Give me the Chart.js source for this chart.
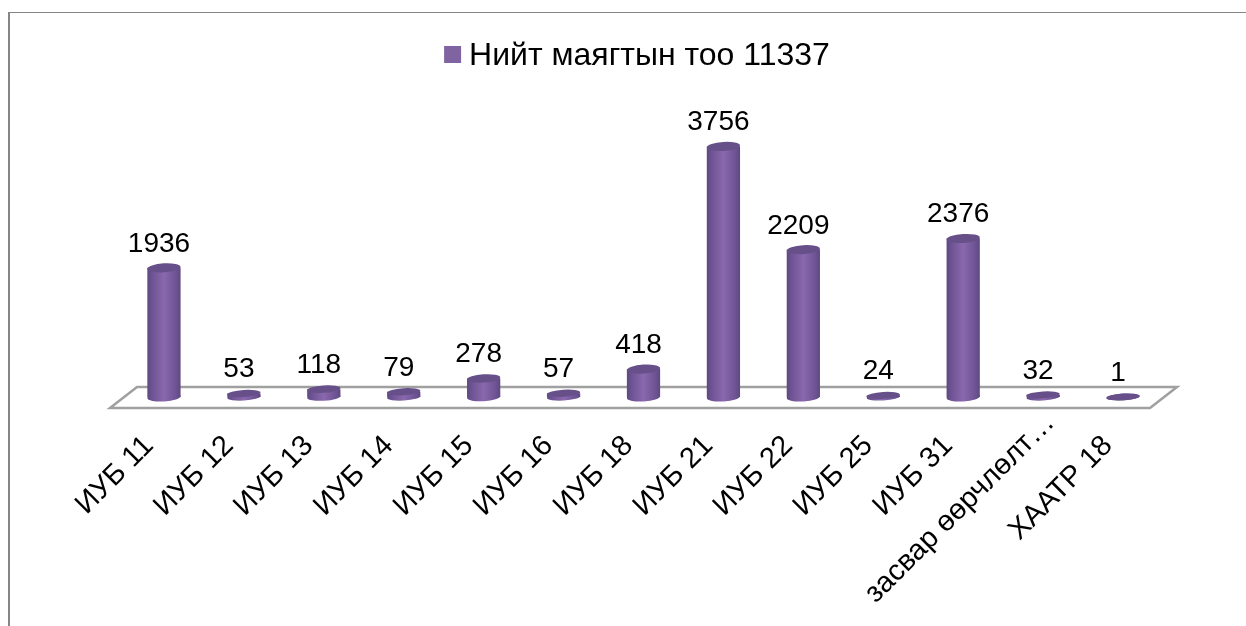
<!DOCTYPE html>
<html lang="mn">
<head>
<meta charset="UTF-8">
<title>Нийт маягтын тоо</title>
<script src="https://cdn.jsdelivr.net/npm/chart.js"></script>
<style>
    html, body { margin: 0; background: #fff; }
    #frame { position: absolute; left: 8px; top: 12px; right: 0; bottom: 0; border-top: 1px solid #868686; border-left: 2px solid #868686; }
    canvas { position: absolute; left: 0; top: 0; }
</style>
</head>
<body>
<div id="frame"></div>
<canvas id="chart" width="1246" height="626"></canvas>

<script>
    const categories = ['ИУБ 11', 'ИУБ 12', 'ИУБ 13', 'ИУБ 14', 'ИУБ 15', 'ИУБ 16', 'ИУБ 18', 'ИУБ 21', 'ИУБ 22', 'ИУБ 25', 'ИУБ 31', 'засвар өөрчлөлт…', 'ХААТР 18'];
    const values = [1936, 53, 118, 79, 278, 57, 418, 3756, 2209, 24, 2376, 32, 1];
    const seriesName = 'Нийт маягтын тоо 11337';

    const fontName = '"Liberation Sans", Arial, sans-serif';
    const capHeight = 4.5;

    // horizontal shading across one bar
    const bodyGradient = (g, x, w) => {
        const grad = g.createLinearGradient(x - w / 2, 0, x + w / 2, 0);
        grad.addColorStop(0, '#5f4882');
        grad.addColorStop(0.15, '#6e5494');
        grad.addColorStop(0.5, '#8a68ad');
        grad.addColorStop(0.85, '#6e5494');
        grad.addColorStop(1, '#5f4882');
        return grad;
    };

    // the long label sits further right and higher than the others
    const labelShiftPlugin = {
        id: 'labelShift',
        beforeDraw(chart) {
            const item = chart.scales.x.getLabelItems(chart.chartArea)[11];
            item.options.translation[0] += 22;
            item.options.translation[1] -= 23;
        }
    };

    // grey floor under the bars
    const floorPlugin = {
        id: 'floor',
        beforeDatasetsDraw(chart) {
            const { ctx, chartArea } = chart;
            const b = chartArea.bottom;
            ctx.save();
            ctx.strokeStyle = '#a0a0a0';
            ctx.lineWidth = 2.5;
            ctx.beginPath();
            ctx.moveTo(chartArea.left + 13, b - 10);
            ctx.lineTo(chartArea.right + 14, b - 10);
            ctx.lineTo(chartArea.right - 13, b + 11);
            ctx.lineTo(chartArea.left - 14, b + 11);
            ctx.closePath();
            ctx.stroke();
            ctx.restore();
        }
    };

    // round caps on the bars and the value labels
    const cylinderPlugin = {
        id: 'cylinder',
        afterDatasetsDraw(chart) {
            const { ctx } = chart;
            const meta = chart.getDatasetMeta(0);
            meta.data.forEach((bar, i) => {
                const rx = bar.width / 2;
                const ry = Math.min(capHeight, 3.4 + (bar.base - bar.y) / 25);
                ctx.save();
                ctx.fillStyle = bodyGradient(ctx, bar.x, bar.width);
                ctx.beginPath();
                ctx.ellipse(bar.x, bar.base, rx, ry, -0.06, 0, Math.PI * 2);
                ctx.fill();
                ctx.fillStyle = '#67508a';
                ctx.beginPath();
                ctx.ellipse(bar.x, bar.y, rx, ry, -0.06, 0, Math.PI * 2);
                ctx.fill();

                ctx.fillStyle = '#000';
                ctx.font = '28px ' + fontName;
                ctx.textAlign = 'center';
                ctx.textBaseline = 'alphabetic';
                ctx.fillText(String(values[i]), bar.x - 5, bar.y - 16);
                ctx.restore();
            });
        }
    };

    // legend square is wider than the room Chart.js leaves before the text
    const legendBoxPlugin = {
        id: 'legendBox',
        afterDraw(chart) {
            const { ctx, legend } = chart;
            const hit = legend.legendHitBoxes[0];
            ctx.save();
            ctx.fillStyle = '#8064a2';
            ctx.fillRect(hit.left, hit.top + hit.height / 2 - 10, 17, 17);
            ctx.restore();
        }
    };

    new Chart(document.getElementById('chart'), {
        type: 'bar',
        data: {
            labels: categories,
            datasets: [{
                label: seriesName,
                data: values,
                barPercentage: 0.52,
                categoryPercentage: 0.8,
                backgroundColor(c) {
                    const x = c.dataIndex === undefined ? NaN : c.chart.scales.x.getPixelForValue(c.dataIndex);
                    if (!Number.isFinite(x)) return 'rgba(0,0,0,0)';
                    return bodyGradient(c.chart.ctx, x, 33);
                }
            }]
        },
        options: {
            responsive: false,
            animation: false,
            layout: { padding: { left: 111, right: 83, top: 32, bottom: 0 } },
            plugins: {
                tooltip: { enabled: false },
                legend: {
                    position: 'top',
                    labels: {
                        color: '#000',
                        boxWidth: 9,
                        boxHeight: 9,
                        padding: 8,
                        font: { family: fontName, size: 32 },
                        generateLabels() {
                            return [{ text: seriesName, fillStyle: 'rgba(0,0,0,0)', strokeStyle: 'rgba(0,0,0,0)', lineWidth: 0, datasetIndex: 0 }];
                        }
                    }
                }
            },
            scales: {
                x: {
                    offset: true,
                    grid: { display: false },
                    border: { display: false },
                    ticks: {
                        autoSkip: false,
                        maxRotation: 45,
                        minRotation: 45,
                        padding: 24,
                        labelOffset: -15,
                        color: '#000',
                        font: { family: fontName, size: 29 }
                    },
                    afterFit(scale) {
                        scale.height = 229;
                        scale.paddingLeft = 0;
                        scale.paddingRight = 0;
                    }
                },
                y: {
                    min: 0,
                    max: 4722,
                    grid: { display: false },
                    border: { display: false },
                    ticks: { display: false },
                    afterFit(scale) { scale.width = 13; }
                }
            }
        },
        plugins: [labelShiftPlugin, floorPlugin, cylinderPlugin, legendBoxPlugin]
    });
</script>
</body>
</html>
